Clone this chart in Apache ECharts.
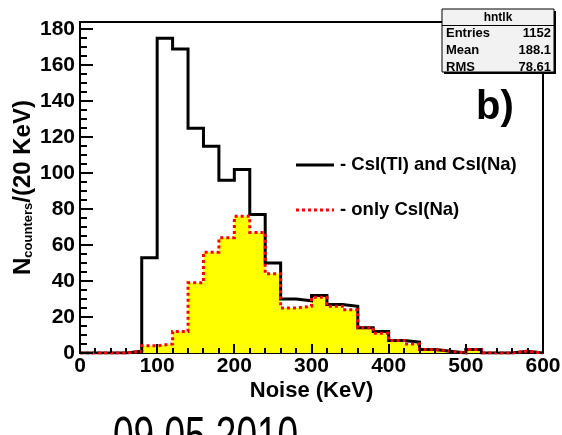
<!DOCTYPE html>
<html>
<head>
<meta charset="utf-8">
<script src="https://cdn.jsdelivr.net/npm/echarts@6/dist/echarts.min.js"></script>
<style>
  html, body { margin: 0; padding: 0; background: #fff; }
  #chart { width: 562px; height: 435px; }
</style>
</head>
<body>
<div id="chart"></div>
<script>
// Noise spectrum, 20 KeV bins from 0 to 600 KeV
const binStart = 0;
const binWidth = 20;
const countsAll = [0, 0, 0, 1, 53, 175, 169, 125, 115, 96, 102, 77, 50, 30, 29,
                   32, 27, 26, 14, 12, 7, 6, 2, 1, 0, 2, 0, 0, 1, 0];
const countsNa  = [0, 0, 0, 1, 4, 5, 12, 39, 56, 64, 76, 67, 44, 25, 26,
                   31, 26, 24, 14, 11, 7, 5, 2, 1, 0, 2, 0, 0, 1, 0];
const xTicks = [0, 100, 200, 300, 400, 500, 600];
const yTicks = [0, 20, 40, 60, 80, 100, 120, 140, 160, 180];
const legendNames = ['- CsI(Tl) and CsI(Na)', '- only CsI(Na)'];
const statsTitle = 'hntlk';
const statsRows = [['Entries', '1152'], ['Mean', '188.1'], ['RMS', '78.61']];
const dateText = '09.05.2010';

// Step outline: one point per bin lower edge plus the closing upper edge
function toSteps(counts) {
  const pts = counts.map((v, i) => [binStart + i * binWidth, v]);
  pts.push([binStart + counts.length * binWidth, counts[counts.length - 1]]);
  return pts;
}

const FONT = 'Liberation Sans, Arial, Helvetica, sans-serif';
const W = 562, H = 435;
const chart = echarts.init(document.getElementById('chart'), null, { renderer: 'canvas', width: W, height: H });

const xMin = xTicks[0], xMax = xTicks[xTicks.length - 1];
const yMin = 0, yMax = 184;
const xMinorStep = 20, yMinorStep = 5;

// Plot frame geometry
const gridBox = { left: 80, right: 19, top: 22, bottom: 82 };
const plotW = W - gridBox.left - gridBox.right;
const plotH = H - gridBox.top - gridBox.bottom;
const xToPx = x => gridBox.left + (x - xMin) / (xMax - xMin) * plotW;
const yToPx = y => H - gridBox.bottom - (y - yMin) / (yMax - yMin) * plotH;

// Inward tick marks along the bottom and left edges of the frame
const tickGraphics = [];
for (let x = xMin; x <= xMax; x += xMinorStep) {
  const px = Math.round(xToPx(x));
  const len = xTicks.indexOf(x) >= 0 ? 9 : 5;
  tickGraphics.push({ type: 'line', shape: { x1: px, y1: yToPx(yMin), x2: px, y2: yToPx(yMin) - len },
                      style: { stroke: '#000', lineWidth: 2 }, z: 30 });
}
for (let y = yTicks[0]; y <= yTicks[yTicks.length - 1]; y += yMinorStep) {
  const py = Math.round(yToPx(y));
  const len = yTicks.indexOf(y) >= 0 ? 13 : 7;
  tickGraphics.push({ type: 'line', shape: { x1: gridBox.left, y1: py, x2: gridBox.left + len, y2: py },
                      style: { stroke: '#000', lineWidth: 2 }, z: 30 });
}

const staticGraphics = [
  // legend
  { type: 'line', shape: { x1: 296, y1: 165, x2: 334, y2: 165 }, style: { stroke: '#000', lineWidth: 3 }, z: 10 },
  { type: 'text', x: 340, y: 165, style: { text: legendNames[0], fill: '#000', font: 'bold 18.5px ' + FONT, verticalAlign: 'middle', textAlign: 'left' }, z: 10 },
  { type: 'line', shape: { x1: 296, y1: 210, x2: 334, y2: 210 }, style: { stroke: '#ff0000', lineWidth: 3, lineDash: [3, 3] }, z: 10 },
  { type: 'text', x: 340, y: 210, style: { text: legendNames[1], fill: '#000', font: 'bold 18.5px ' + FONT, verticalAlign: 'middle', textAlign: 'left' }, z: 10 },
  // panel tag
  { type: 'text', x: 495, y: 108, style: { text: 'b)', fill: '#000', font: 'bold 40px ' + FONT, verticalAlign: 'middle', textAlign: 'center' }, z: 10 },
  // statistics box
  { type: 'rect', shape: { x: 444, y: 11, width: 112, height: 63 }, style: { fill: '#000' }, z: 40 },
  { type: 'rect', shape: { x: 442, y: 9, width: 112, height: 63 }, style: { fill: '#f2f2f2', stroke: '#000', lineWidth: 1 }, z: 41 },
  { type: 'line', shape: { x1: 442, y1: 25.5, x2: 554, y2: 25.5 }, style: { stroke: '#000', lineWidth: 1 }, z: 42 },
  { type: 'text', x: 498, y: 17.5, style: { text: statsTitle, fill: '#000', font: 'bold 12px ' + FONT, verticalAlign: 'middle', textAlign: 'center' }, z: 42 },
  ...statsRows.flatMap((r, i) => [
    { type: 'text', x: 446, y: 33.5 + i * 17, style: { text: r[0], fill: '#000', font: 'bold 13px ' + FONT, verticalAlign: 'middle', textAlign: 'left' }, z: 42 },
    { type: 'text', x: 551, y: 33.5 + i * 17, style: { text: r[1], fill: '#000', font: 'bold 13px ' + FONT, verticalAlign: 'middle', textAlign: 'right' }, z: 42 }
  ]),
  // date stamp, tall glyphs running past the bottom edge
  { type: 'text', x: 113, y: 413, scaleY: 1.4, style: { text: dateText, fill: '#000', font: '37px ' + FONT, verticalAlign: 'top', textAlign: 'left' }, z: 10 }
];

const option = {
  animation: false,
  backgroundColor: '#fff',
  grid: {
    left: gridBox.left, right: gridBox.right, top: gridBox.top, bottom: gridBox.bottom,
    outerBoundsMode: 'none', containLabel: false,
    show: true, borderColor: '#000', borderWidth: 2, backgroundColor: 'transparent'
  },
  xAxis: {
    type: 'value', min: xMin, max: xMax, interval: 100,
    axisLine: { show: false },
    axisTick: { show: false },
    splitLine: { show: false },
    axisLabel: {
      margin: 3, color: '#000', fontFamily: FONT, fontWeight: 'bold', fontSize: 21,
      formatter: v => (xTicks.indexOf(v) >= 0 ? String(v) : '')
    },
    name: 'Noise (KeV)', nameLocation: 'middle', nameGap: 27, nameMoveOverlap: false,
    nameTextStyle: { color: '#000', fontFamily: FONT, fontWeight: 'bold', fontSize: 22 }
  },
  yAxis: {
    type: 'value', min: yMin, max: yMax, interval: 20,
    axisLine: { show: false },
    axisTick: { show: false },
    splitLine: { show: false },
    axisLabel: {
      margin: 5, color: '#000', fontFamily: FONT, fontWeight: 'bold', fontSize: 21,
      showMaxLabel: false,
      formatter: v => (yTicks.indexOf(v) >= 0 ? String(v) : '')
    },
    name: '{n|N}{s|counters}{n|/(20 KeV)}',
    nameLocation: 'middle', nameGap: 45, nameRotate: 90, nameMoveOverlap: false,
    nameTextStyle: {
      color: '#000', fontFamily: FONT, fontWeight: 'bold',
      rich: {
        n: { fontSize: 24, fontWeight: 'bold', fontFamily: FONT, color: '#000', lineHeight: 24, verticalAlign: 'bottom' },
        s: { fontSize: 13, fontWeight: 'bold', fontFamily: FONT, color: '#000', lineHeight: 13, verticalAlign: 'bottom' }
      }
    }
  },
  series: [
    {
      name: 'fill', type: 'line', step: 'end', data: toSteps(countsNa),
      showSymbol: false, symbol: 'none', silent: true, z: 1,
      lineStyle: { width: 0, opacity: 0 },
      areaStyle: { color: '#ffff00', opacity: 1, origin: 0 }
    },
    {
      name: legendNames[0], type: 'line', step: 'end', data: toSteps(countsAll),
      showSymbol: false, symbol: 'none', z: 2,
      lineStyle: { color: '#000', width: 3, cap: 'butt', join: 'miter' }
    },
    {
      name: legendNames[1], type: 'line', step: 'end', data: toSteps(countsNa),
      showSymbol: false, symbol: 'none', z: 3,
      lineStyle: { color: '#ff0000', width: 3, type: [3, 3], cap: 'butt', join: 'miter' }
    }
  ],
  graphic: tickGraphics.concat(staticGraphics)
};

chart.setOption(option);
</script>
</body>
</html>
